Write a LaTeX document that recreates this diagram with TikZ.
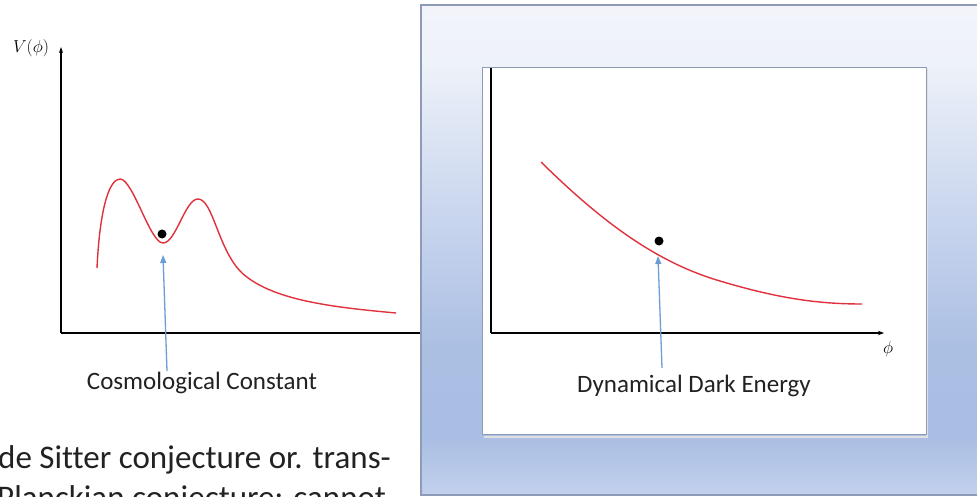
\documentclass[tikz,border=0pt]{standalone}
\usepackage{fontspec}
\setmainfont[Ligatures=NoCommon]{Carlito}
\usetikzlibrary{arrows.meta}
\definecolor{curvered}{HTML}{E0313C}
\definecolor{arrowblue}{HTML}{6C9ED6}
\definecolor{framegray}{HTML}{8E9BB6}
\definecolor{bgA}{HTML}{C2D0EC}
\definecolor{bgB}{HTML}{A9BEE3}
\definecolor{bgC}{HTML}{ABBFE3}
\definecolor{bgD}{HTML}{CCD8EF}
\definecolor{bgE}{HTML}{EEF2F9}
\definecolor{bgF}{HTML}{F2F4FA}
\definecolor{textgray}{HTML}{222222}
\pgfdeclareverticalshading{outerbg}{100bp}{color(0bp)=(bgA); color(25bp)=(bgA); color(31bp)=(bgB); color(40bp)=(bgC); color(55bp)=(bgD); color(69bp)=(bgE); color(75bp)=(bgF); color(100bp)=(bgF)}
\tikzset{
  axisline/.style={black, line width=1.6pt},
  potential/.style={curvered, line width=1.4pt},
  pointer/.style={arrowblue, line width=1.3pt, -{Triangle[width=6pt,length=8pt]}},
  labeltext/.style={font=\fontsize{25}{28}\selectfont, text=textgray, inner sep=0pt},
  bigtext/.style={font=\fontsize{33}{40}\selectfont, text=textgray, inner sep=0pt, anchor=base west},
  statedot/.style={circle, fill=black, inner sep=0pt, minimum size=9pt},
}
\begin{document}
\begin{tikzpicture}[x=1pt,y=-1pt]
\useasboundingbox (0,0) rectangle (977,497);
\clip (0,0) rectangle (977,497);
\fill[white] (0,0) rectangle (977,497);

% ---------- left plot ----------
\coordinate (yTop) at (61,47);
\coordinate (origL) at (61,333);
\coordinate (xEndL) at (425,333);
\draw[axisline, -{Stealth[length=6pt,width=4pt]}] (origL) -- (yTop);
\draw[axisline] (origL) -- (xEndL);
\node[font=\fontsize{19}{21}\selectfont, inner sep=0pt] (Vlab) at (31,48) {$V(\phi)$};
\draw[potential] (97,268) .. controls (100,205) and (110,179) .. (120,179)
  .. controls (133,179) and (150,243) .. (163,243)
  .. controls (176,243) and (185,199) .. (198,199)
  .. controls (213,199) and (218,250) .. (242,273)
  .. controls (272,300) and (330,307) .. (396,313);
\node[statedot] (dotL) at (162,234) {};
\node[labeltext] (cc) at (202,383) {Cosmological Constant};
\coordinate (ccfoot) at (167,371);
\coordinate (cctip) at (163,255);
\draw[pointer] (ccfoot) -- (cctip);

% ---------- right frame ----------
\shade[shading=outerbg] (421,5) rectangle (990,495);
\draw[framegray, line width=1.5pt] (990,5) -- (421,5) -- (421,495) -- (990,495);
\fill[black!12] (484,436) rectangle (928,438);
\fill[black!12] (926,69) rectangle (928,438);
\node[draw=framegray, line width=1pt, fill=white, minimum width=444pt, minimum height=367pt, inner sep=0pt, anchor=north west] (inner) at (482,67) {};

% ---------- right plot ----------
\coordinate (yTopR) at (491,68);
\coordinate (origR) at (491,333);
\coordinate (xTipR) at (884,333);
\draw[black, line width=1.4pt] (origR) -- (yTopR);
\draw[black, line width=1.4pt, -{Stealth[length=6pt,width=4.5pt]}] (origR) -- (xTipR);
\node[font=\fontsize{18}{20}\selectfont, inner sep=0pt] (philab) at (888,349) {$\phi$};
\draw[potential] (541,162) .. controls (600,220) and (655,262) .. (720,281)
  .. controls (780,299) and (820,304) .. (862,304);
\node[statedot] (dotR) at (659,241) {};
\node[labeltext] (dde) at (694,386) {Dynamical Dark Energy};
\coordinate (ddefoot) at (662,368);
\coordinate (ddetip) at (658,256);
\draw[pointer] (ddefoot) -- (ddetip);

% ---------- bottom text ----------
\node[bigtext] (line1) at (-2,468) {de Sitter conjecture or. trans-};
\node[bigtext] (line2) at (-3,508) {Planckian conjecture: cannot};
\end{tikzpicture}
\end{document}
